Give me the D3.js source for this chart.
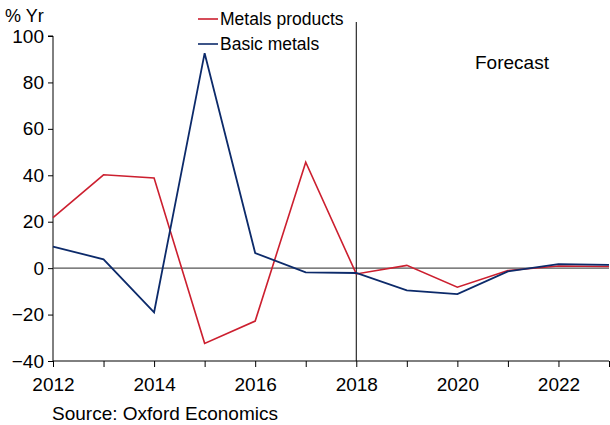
<!DOCTYPE html>
<html>
<head>
<meta charset="utf-8">
<script src="https://cdn.jsdelivr.net/npm/d3@7"></script>
<style>
  body { margin: 0; background: #fff; }
  text { font-family: "Liberation Sans", Arial, sans-serif; }
</style>
</head>
<body>
<div id="chart"></div>
<script>
var years = [2012, 2013, 2014, 2015, 2016, 2017, 2018, 2019, 2020, 2021, 2022, 2023];
var metalsProducts = [21.8, 40.2, 38.8, -32.4, -22.8, 45.6, -2.5, 1.2, -8.2, -1.0, 0.9, 0.7];
var basicMetals = [9.3, 3.8, -19.0, 92.6, 6.5, -1.8, -2.1, -9.6, -11.2, -1.4, 1.7, 1.4];
var yTicks = [-40, -20, 0, 20, 40, 60, 80, 100];
var xLabels = [2012, 2014, 2016, 2018, 2020, 2022];
var forecastYear = 2018;

function init() {
    var w = 610;
    var h = 425;
    var left = 53, right = 609, top = 36, bottom = 361;

    var svg = d3.select("#chart")
        .append("svg")
        .attr("width", w)
        .attr("height", h);

    var x = d3.scaleLinear().domain([2012, 2023]).range([left, right]);
    var y = d3.scaleLinear().domain([-40, 100]).range([bottom, top]);

    // y axis
    var yAxis = svg.append("g")
        .attr("transform", "translate(" + left + ",0)")
        .call(d3.axisLeft(y).tickValues(yTicks).tickSize(5).tickPadding(4));
    yAxis.select(".domain").attr("stroke", "#000").attr("d", "M-5," + y(100) + "H0V" + y(-40));
    yAxis.selectAll("line").attr("stroke", "#000");
    yAxis.selectAll("text").style("font-size", "19px").attr("fill", "#000");

    // x axis
    var xAxis = svg.append("g")
        .attr("transform", "translate(0," + bottom + ")")
        .call(d3.axisBottom(x).tickValues(years).tickSize(6).tickPadding(4)
            .tickFormat(function(d){ return xLabels.indexOf(d) >= 0 ? d : ""; }));
    xAxis.select(".domain").attr("stroke", "#000").attr("d", "M" + left + ",0H" + right);
    xAxis.selectAll("line").attr("stroke", "#000");
    xAxis.selectAll("text").style("font-size", "19px").attr("fill", "#000").attr("dy", "1.05em");

    // zero line
    svg.append("line")
        .attr("x1", left).attr("x2", right)
        .attr("y1", y(0)).attr("y2", y(0))
        .attr("stroke", "#555").attr("stroke-width", 1.2);

    // forecast divider
    svg.append("line")
        .attr("x1", x(forecastYear)).attr("x2", x(forecastYear))
        .attr("y1", 22).attr("y2", bottom)
        .attr("stroke", "#000").attr("stroke-width", 1);

    svg.append("text")
        .attr("x", 475).attr("y", 69)
        .style("font-size", "19px")
        .text("Forecast");

    var line = d3.line()
        .x(function(d, i){ return x(years[i]); })
        .y(function(d){ return y(d); });

    svg.append("path")
        .datum(metalsProducts)
        .attr("fill", "none")
        .attr("stroke", "#cc1f2f")
        .attr("stroke-width", 1.6)
        .attr("d", line);

    svg.append("path")
        .datum(basicMetals)
        .attr("fill", "none")
        .attr("stroke", "#0c2a6a")
        .attr("stroke-width", 1.8)
        .attr("d", line);

    // legend
    var legend = [
        { name: "Metals products", color: "#cc1f2f", y: 19 },
        { name: "Basic metals", color: "#0c2a6a", y: 44 }
    ];
    legend.forEach(function(d){
        svg.append("line")
            .attr("x1", 198).attr("x2", 218)
            .attr("y1", d.y).attr("y2", d.y)
            .attr("stroke", d.color).attr("stroke-width", 1.6);
        svg.append("text")
            .attr("x", 220).attr("y", d.y + 6)
            .style("font-size", "17.5px")
            .text(d.name);
    });

    svg.append("text")
        .attr("x", 5).attr("y", 22)
        .style("font-size", "18px")
        .text("% Yr");

    svg.append("text")
        .attr("x", 52).attr("y", 420)
        .style("font-size", "19px")
        .text("Source: Oxford Economics");
}

window.onload = init;
</script>
</body>
</html>
